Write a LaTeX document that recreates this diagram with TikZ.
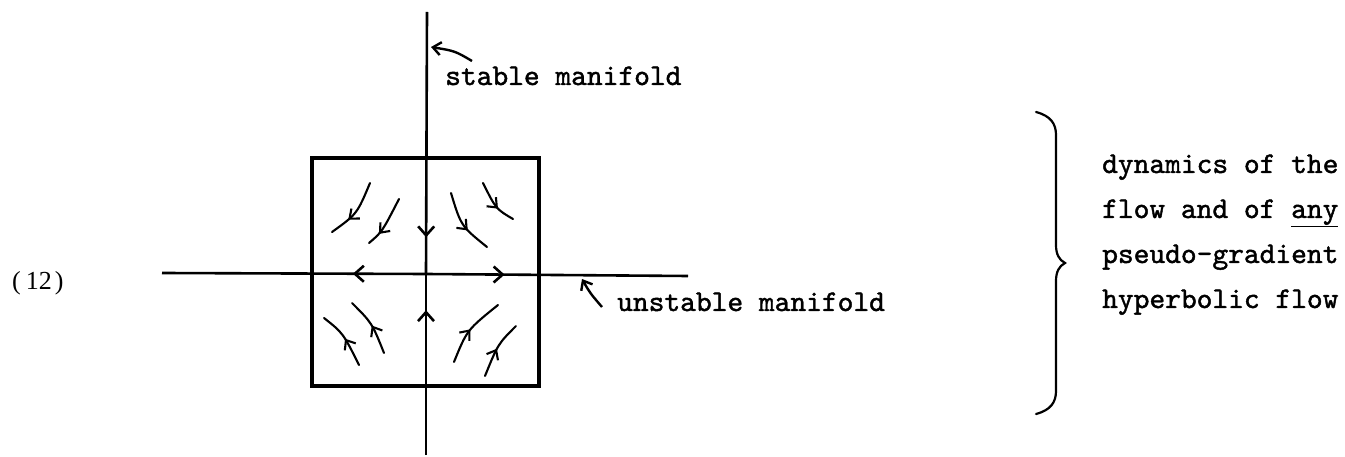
\documentclass[tikz,border=0pt]{standalone}
\usepackage{fontspec}
\setmainfont{Liberation Serif}
\newfontfamily\tw{lmmono10-regular}[Extension=.otf,FakeBold=1.4]
\usetikzlibrary{arrows.meta,decorations.markings}
\begin{document}
\begin{tikzpicture}[x=1pt,y=-1pt,
  axisarr/.style={line width=2.6pt, postaction={decorate},
    decoration={markings, mark=at position #1 with {\arrow{Straight Barb[length=9pt,width=16pt,line width=2.6pt]}}}},
  axisarr/.default=0.5,
  flowline/.style={line width=2.1pt, line cap=round, postaction={decorate},
    decoration={markings, mark=at position #1 with {\arrow{Straight Barb[length=8pt,width=13pt,line width=2.1pt]}}}},
  flowline/.default=0.6,
  lblarrow/.style={line width=2.4pt, -{Straight Barb[length=8pt,width=13pt,line width=2.4pt]}},
  boxline/.style={line width=3.1pt},
  tt/.style={font=\tw\fontsize{30}{34}\selectfont, inner sep=0pt, anchor=base west},
  bracestyle/.style={line width=2.2pt, line cap=round}
]
\useasboundingbox (0,0) rectangle (1345,457);

% coordinates
\coordinate (O) at (426,274);
\coordinate (Vtop) at (427,12);
\coordinate (Vbot) at (426,455);
\coordinate (Hleft) at (162,273);
\coordinate (Hright) at (688,276);

% box
\draw[boxline] (312,158) rectangle (539,386);

% axes with mid arrows
\draw[axisarr=0.86] (Vtop) -- (O);
\draw[axisarr=0.80] (Vbot) -- (O);
\draw[axisarr=0.277] (O) -- (Hleft);
\draw[axisarr=0.30] (O) -- (Hright);

% flow curves, upper left
\draw[flowline=0.68] (370,183) .. controls (357,214) .. (332,232);
\draw[flowline=0.75] (399,199) .. controls (382,232) .. (369,243);
% upper right
\draw[flowline=0.62] (451,193) .. controls (461,226) .. (487,247);
\draw[flowline=0.62] (483,183) .. controls (496,209) .. (513,219);
% lower left
\draw[flowline=0.5] (359,365) .. controls (343,333) .. (324,318);
\draw[flowline=0.5] (384,353) .. controls (372,323) .. (352,303);
% lower right
\draw[flowline=0.5] (454,362) .. controls (467,330) .. (498,305);
\draw[flowline=0.5] (485,376) .. controls (498,344) .. (516,326);

% labels
\coordinate (sA) at (472,61);
\coordinate (sB) at (431,47);
\draw[lblarrow] (sA) .. controls (455,51) .. (sB);
\node[tt] (stab) at (445,85) {stable manifold};

\coordinate (uA) at (602,307);
\coordinate (uB) at (582,279);
\draw[lblarrow] (uA) .. controls (590,293) .. (uB);
\node[tt] (unstab) at (617,311) {unstable manifold};

\node[font=\fontsize{26}{30}\selectfont, anchor=base west, inner sep=0pt] (eq) at (12,290) {(\kern5pt12\kern3pt)};

% brace
\draw[bracestyle] (1036,112) .. controls (1051,116) and (1056,124) .. (1056,135)
  -- (1056,245) .. controls (1056,254) and (1059,260) .. (1065,263)
  .. controls (1059,266) and (1056,272) .. (1056,281)
  -- (1056,391) .. controls (1056,402) and (1051,410) .. (1036,414);

\node[tt] (l1) at (1102,173) {dynamics of the};
\node[tt] (l2) at (1102,218) {flow and of \underline{any}};
\node[tt] (l3) at (1102,263) {pseudo-gradient};
\node[tt] (l4) at (1102,308) {hyperbolic flow};
\end{tikzpicture}
\end{document}
